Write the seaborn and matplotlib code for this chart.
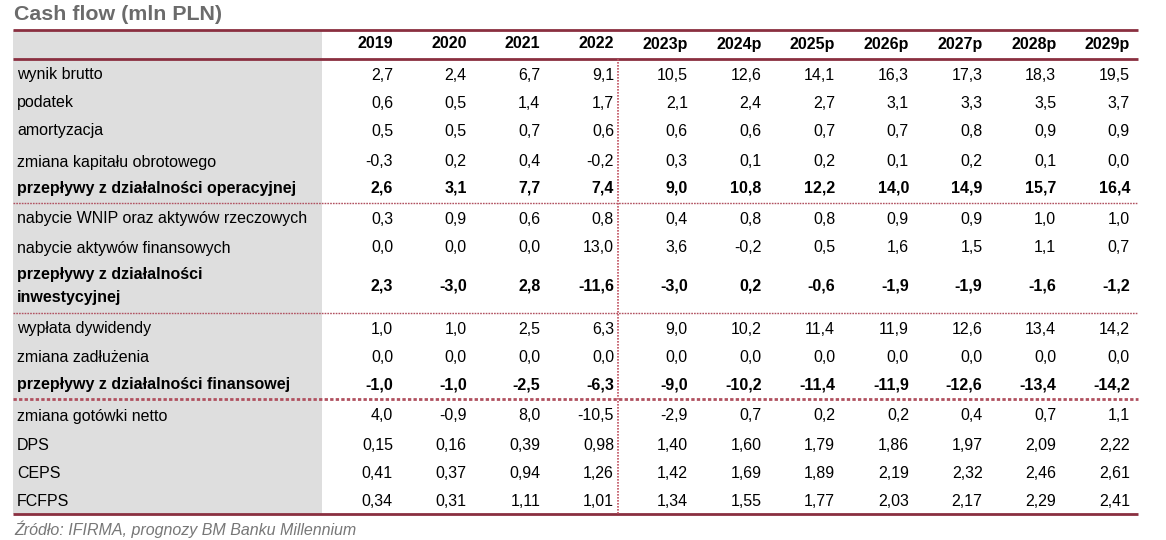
import numpy as np
import pandas as pd
import matplotlib
matplotlib.use("Agg")
import matplotlib.pyplot as plt
import seaborn as sns

# ---------------- data ----------------
years = ["2019", "2020", "2021", "2022", "2023p", "2024p", "2025p",
         "2026p", "2027p", "2028p", "2029p"]

row_labels = [
    "wynik brutto",
    "podatek",
    "amortyzacja",
    "zmiana kapitału obrotowego",
    "przepływy z działalności operacyjnej",
    "nabycie WNIP oraz aktywów rzeczowych",
    "nabycie aktywów finansowych",
    "przepływy z działalności\ninwestycyjnej",
    "wypłata dywidendy",
    "zmiana zadłużenia",
    "przepływy z działalności finansowej",
    "zmiana gotówki netto",
    "DPS",
    "CEPS",
    "FCFPS",
]

wynik_brutto = [2.7, 2.4, 6.7, 9.1, 10.5, 12.6, 14.1, 16.3, 17.3, 18.3, 19.5]
podatek = [0.6, 0.5, 1.4, 1.7, 2.1, 2.4, 2.7, 3.1, 3.3, 3.5, 3.7]
amortyzacja = [0.5, 0.5, 0.7, 0.6, 0.6, 0.6, 0.7, 0.7, 0.8, 0.9, 0.9]
zmiana_kapitalu = [-0.3, 0.2, 0.4, -0.2, 0.3, 0.1, 0.2, 0.1, 0.2, 0.1, 0.0]
przeplywy_oper = [2.6, 3.1, 7.7, 7.4, 9.0, 10.8, 12.2, 14.0, 14.9, 15.7, 16.4]
nabycie_wnip = [0.3, 0.9, 0.6, 0.8, 0.4, 0.8, 0.8, 0.9, 0.9, 1.0, 1.0]
nabycie_fin = [0.0, 0.0, 0.0, 13.0, 3.6, -0.2, 0.5, 1.6, 1.5, 1.1, 0.7]
przeplywy_inw = [2.3, -3.0, 2.8, -11.6, -3.0, 0.2, -0.6, -1.9, -1.9, -1.6, -1.2]
wyplata_dyw = [1.0, 1.0, 2.5, 6.3, 9.0, 10.2, 11.4, 11.9, 12.6, 13.4, 14.2]
zmiana_zadl = [0.0, 0.0, 0.0, 0.0, 0.0, 0.0, 0.0, 0.0, 0.0, 0.0, 0.0]
przeplywy_fin = [-1.0, -1.0, -2.5, -6.3, -9.0, -10.2, -11.4, -11.9, -12.6, -13.4, -14.2]
zmiana_gotowki = [4.0, -0.9, 8.0, -10.5, -2.9, 0.7, 0.2, 0.2, 0.4, 0.7, 1.1]
dps = [0.15, 0.16, 0.39, 0.98, 1.40, 1.60, 1.79, 1.86, 1.97, 2.09, 2.22]
ceps = [0.41, 0.37, 0.94, 1.26, 1.42, 1.69, 1.89, 2.19, 2.32, 2.46, 2.61]
fcfps = [0.34, 0.31, 1.11, 1.01, 1.34, 1.55, 1.77, 2.03, 2.17, 2.29, 2.41]

bold_rows = [4, 7, 10]
decimals = [1] * 12 + [2, 2, 2]

title = "Cash flow (mln PLN)"
source = "Źródło: IFIRMA, prognozy BM Banku Millennium"

df = pd.DataFrame(
    [wynik_brutto, podatek, amortyzacja, zmiana_kapitalu, przeplywy_oper,
     nabycie_wnip, nabycie_fin, przeplywy_inw, wyplata_dyw, zmiana_zadl,
     przeplywy_fin, zmiana_gotowki, dps, ceps, fcfps],
    index=row_labels, columns=years)

# ---------------- layout ----------------
sns.set_theme(style="white")
plt.rcParams["font.family"] = ["Liberation Sans", "DejaVu Sans"]

W, H = 1166, 540
fig = plt.figure(figsize=(W / 100, H / 100), dpi=100)
ax = fig.add_axes([0, 0, 1, 1])
ax.set_xlim(0, W)
ax.set_ylim(H, 0)
ax.axis("off")

maroon = "#8a2f40"
left, right = 13, 1138
label_col_right = 322
col_right0, col_step = 393, 73.7
row_y = [75, 103, 131, 162, 188, 219, 248, 286, 329, 358, 385, 416, 445, 473, 502]
top_y, head_y, head_line_y, bottom_y = 30, 44, 59, 514
sep_y = [(203, 1.0), (313, 1.0), (399, 2.0)]
vline_x = 618
fs = 11.5

# gray label column
ax.add_patch(plt.Rectangle((left, top_y), label_col_right - left, bottom_y - top_y,
                           facecolor="#dedede", edgecolor="none", zorder=0))

# title
ax.text(14, 15, title, fontsize=15.4, fontweight="bold", color="#6b6b6b",
        ha="left", va="center")

# lines
ax.plot([left, right], [top_y, top_y], color=maroon, lw=2.0, solid_capstyle="butt")
ax.plot([left, right], [head_line_y, head_line_y], color=maroon, lw=2.0, solid_capstyle="butt")
ax.plot([left, right], [bottom_y, bottom_y], color=maroon, lw=2.0, solid_capstyle="butt")
for y, lw in sep_y:
    ax.plot([left, right], [y, y], color="#b0505f", lw=lw, ls=(0, (1.2, 0.8)))
ax.plot([vline_x, vline_x], [head_line_y, bottom_y], color="#c0505f", lw=1.2,
        ls=(0, (1, 0.8)))

# header
for j, yr in enumerate(df.columns):
    ax.text(col_right0 + j * col_step, head_y, yr, fontsize=fs, fontweight="bold",
            ha="right", va="center", color="black")

# body
for i, (lab, row) in enumerate(df.iterrows()):
    w = "bold" if i in bold_rows else "normal"
    ax.text(17, row_y[i], lab, fontsize=fs, fontweight=w, ha="left", va="center",
            color="black", linespacing=1.6)
    for j, v in enumerate(row.values):
        s = f"{v:.{decimals[i]}f}".replace(".", ",")
        ax.text(col_right0 + j * col_step, row_y[i], s, fontsize=fs, fontweight=w,
                ha="right", va="center", color="black")

# source
ax.text(14, 529, source, fontsize=fs, style="italic", color="#777777",
        ha="left", va="center")

fig.savefig("out.png", dpi=100)
